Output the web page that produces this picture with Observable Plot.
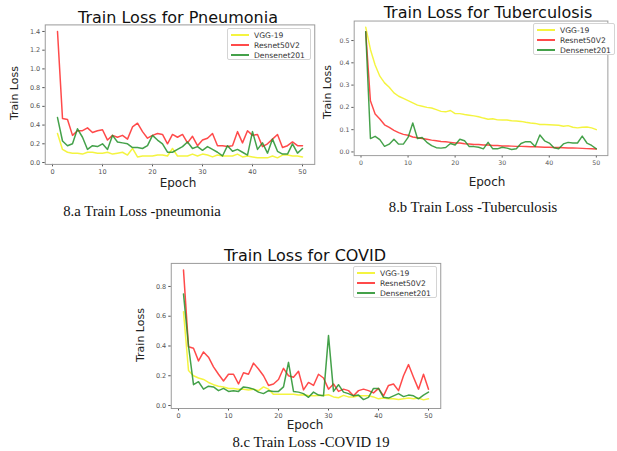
<!DOCTYPE html>
<html>
<head>
<meta charset="utf-8">
<script src="https://cdn.jsdelivr.net/npm/d3@7"></script>
<script src="https://cdn.jsdelivr.net/npm/@observablehq/plot@0.6"></script>
<style>
  html, body { margin: 0; padding: 0; background: #fff; }
  body { width: 617px; height: 451px; overflow: hidden; position: relative; font-family: "DejaVu Sans", sans-serif; }
  .abs { position: absolute; }
  .title { font-size: 16px; color: #111; white-space: nowrap; transform: translate(-50%, -50%); }
  .xlab { font-size: 12px; color: #222; white-space: nowrap; transform: translate(-50%, -50%); }
  .ylab { font-size: 11px; color: #222; white-space: nowrap; transform: translate(-50%, -50%) rotate(-90deg); }
  .cap { font-family: "Liberation Serif", "Times New Roman", serif; font-size: 14.7px; color: #111; white-space: nowrap; transform: translate(-50%, -50%); }
  .legend { border: 1px solid #d4d4d4; border-radius: 2px; background: #fff; padding: 1px 3px 1px 3px; box-sizing: border-box; font-family: "DejaVu Sans", sans-serif; }
  .row { display: flex; align-items: center; height: 10px; font-size: 7.6px; color: #333; white-space: nowrap; }
  .sw { display: inline-block; width: 18px; height: 2px; margin-right: 5px; opacity: 0.85; flex: none; }
</style>
</head>
<body>
<script>
// ---------- data ----------
const epochs = [1,2,3,4,5,6,7,8,9,10,11,12,13,14,15,16,17,18,19,20,21,22,23,24,25,26,27,28,29,30,31,32,33,34,35,36,37,38,39,40,41,42,43,44,45,46,47,48,49,50];
const models = ["VGG-19", "Resnet50V2", "Densenet201"];
const modelColors = ["#f2f21e", "#ff2a2a", "#23902a"];

// Pneumonia
const pneumoniaVGG = [0.31,0.14,0.11,0.10,0.10,0.09,0.11,0.11,0.10,0.10,0.11,0.09,0.10,0.11,0.08,0.15,0.06,0.07,0.07,0.07,0.08,0.08,0.07,0.15,0.07,0.07,0.07,0.09,0.07,0.09,0.08,0.06,0.08,0.07,0.07,0.07,0.09,0.06,0.07,0.06,0.05,0.05,0.05,0.07,0.05,0.08,0.08,0.07,0.07,0.06];
const pneumoniaResnet = [1.40,0.47,0.46,0.29,0.34,0.34,0.37,0.32,0.34,0.35,0.24,0.29,0.27,0.29,0.25,0.38,0.42,0.33,0.26,0.29,0.31,0.30,0.20,0.30,0.27,0.30,0.21,0.28,0.18,0.24,0.26,0.31,0.18,0.18,0.17,0.18,0.33,0.21,0.34,0.29,0.30,0.17,0.20,0.25,0.30,0.16,0.18,0.22,0.18,0.18];
const pneumoniaDensenet = [0.48,0.23,0.18,0.20,0.36,0.27,0.14,0.18,0.17,0.20,0.14,0.29,0.22,0.21,0.20,0.16,0.16,0.15,0.18,0.29,0.24,0.20,0.11,0.11,0.14,0.17,0.22,0.15,0.17,0.13,0.17,0.14,0.11,0.07,0.18,0.12,0.14,0.11,0.08,0.33,0.14,0.21,0.10,0.25,0.12,0.09,0.09,0.20,0.10,0.15];

// Tuberculosis
const tbVGG = [0.56,0.46,0.39,0.34,0.31,0.29,0.265,0.25,0.24,0.23,0.22,0.21,0.205,0.20,0.197,0.19,0.182,0.18,0.186,0.172,0.172,0.168,0.165,0.162,0.158,0.152,0.147,0.149,0.144,0.143,0.143,0.14,0.139,0.137,0.133,0.13,0.128,0.123,0.123,0.122,0.121,0.12,0.115,0.118,0.111,0.108,0.111,0.112,0.108,0.10];
const tbResnet = [0.54,0.23,0.17,0.148,0.122,0.11,0.097,0.087,0.079,0.075,0.067,0.064,0.06,0.057,0.053,0.05,0.047,0.046,0.043,0.04,0.04,0.037,0.036,0.033,0.033,0.031,0.031,0.029,0.029,0.027,0.027,0.026,0.025,0.025,0.024,0.023,0.023,0.022,0.021,0.021,0.02,0.02,0.019,0.018,0.018,0.017,0.016,0.015,0.014,0.013];
const tbDensenet = [0.54,0.06,0.07,0.055,0.025,0.035,0.057,0.035,0.035,0.065,0.13,0.06,0.065,0.043,0.028,0.019,0.017,0.02,0.038,0.031,0.057,0.05,0.024,0.024,0.021,0.014,0.043,0.014,0.014,0.021,0.017,0.011,0.014,0.038,0.046,0.046,0.024,0.076,0.05,0.04,0.019,0.014,0.036,0.043,0.04,0.04,0.071,0.04,0.029,0.014];

// COVID
const covidVGG = [0.63,0.235,0.20,0.185,0.175,0.155,0.14,0.13,0.125,0.115,0.115,0.11,0.11,0.105,0.11,0.10,0.125,0.11,0.075,0.075,0.075,0.075,0.075,0.07,0.072,0.068,0.065,0.068,0.068,0.072,0.058,0.052,0.068,0.058,0.058,0.065,0.065,0.065,0.058,0.045,0.05,0.045,0.045,0.04,0.045,0.05,0.045,0.05,0.038,0.045];
const covidResnet = [0.91,0.395,0.385,0.30,0.36,0.325,0.26,0.21,0.165,0.21,0.21,0.145,0.22,0.21,0.285,0.245,0.20,0.135,0.145,0.175,0.25,0.20,0.19,0.23,0.105,0.155,0.135,0.21,0.185,0.11,0.145,0.095,0.11,0.10,0.065,0.10,0.11,0.10,0.085,0.115,0.065,0.135,0.145,0.10,0.20,0.275,0.19,0.11,0.21,0.11];
const covidDensenet = [0.75,0.40,0.14,0.16,0.11,0.13,0.125,0.10,0.115,0.095,0.10,0.095,0.125,0.12,0.11,0.09,0.08,0.10,0.095,0.095,0.125,0.29,0.095,0.09,0.08,0.055,0.09,0.07,0.065,0.47,0.095,0.14,0.09,0.08,0.065,0.07,0.04,0.055,0.115,0.115,0.055,0.05,0.065,0.08,0.06,0.07,0.065,0.045,0.07,0.09];

// tick labels
const xTicks = [0, 10, 20, 30, 40, 50];
const yTicksPneumonia = [0.0, 0.2, 0.4, 0.6, 0.8, 1.0, 1.2, 1.4];
const yTicksTB = [0.0, 0.1, 0.2, 0.3, 0.4, 0.5];
const yTicksCovid = [0.0, 0.2, 0.4, 0.6, 0.8];

// texts
const titles = ["Train Loss for Pneumonia", "Train Loss for Tuberculosis", "Train Loss for COVID"];
const captions = ["8.a Train Loss -pneumonia", "8.b Train Loss -Tuberculosis", "8.c Train Loss -COVID 19"];
const xLabel = "Epoch";
const yLabel = "Train Loss";

// ---------- helpers ----------
function rows(series) {
  const out = [];
  series.forEach((vals, i) => vals.forEach((v, j) => out.push({epoch: epochs[j], loss: v, model: models[i]})));
  return out;
}

function addEl(cls, text, x, y) {
  const d = document.createElement("div");
  d.className = "abs " + cls;
  d.textContent = text;
  d.style.left = x + "px";
  d.style.top = y + "px";
  document.body.appendChild(d);
  return d;
}

function addLegend(x, y, w, h) {
  const box = document.createElement("div");
  box.className = "abs legend";
  Object.assign(box.style, {left: x + "px", top: y + "px", width: w + "px", height: h + "px"});
  models.forEach((m, i) => {
    const r = document.createElement("div");
    r.className = "row";
    const s = document.createElement("span");
    s.className = "sw";
    s.style.background = modelColors[i];
    r.appendChild(s);
    const t = document.createElement("span");
    t.textContent = m;
    r.appendChild(t);
    box.appendChild(r);
  });
  document.body.appendChild(box);
}

function panel(cfg) {
  const chart = Plot.plot({
    width: cfg.width,
    height: cfg.height,
    marginLeft: cfg.ml, marginRight: cfg.mr, marginTop: cfg.mt, marginBottom: cfg.mb,
    style: {fontFamily: "DejaVu Sans, sans-serif", fontSize: "6.5px", color: "#555", background: "transparent", overflow: "visible"},
    x: {domain: [-1.45, 52.45], ticks: xTicks, tickSize: 2.5, tickPadding: 2.5, tickFormat: d => String(d), label: null},
    y: {domain: cfg.ydomain, ticks: cfg.yticks, tickSize: 2.5, tickPadding: 2.5, tickFormat: d => d.toFixed(1), label: null},
    color: {domain: models, range: modelColors},
    marks: [
      Plot.frame({stroke: "#9a9a9a", strokeWidth: 1}),
      Plot.line(rows(cfg.series), {x: "epoch", y: "loss", z: "model", stroke: "model", strokeWidth: 1.5, strokeOpacity: 0.85})
    ]
  });
  const wrap = document.createElement("div");
  wrap.className = "abs";
  wrap.style.left = cfg.left + "px";
  wrap.style.top = cfg.top + "px";
  wrap.appendChild(chart);
  document.body.appendChild(wrap);
}

// ---------- panels ----------
panel({left: 0, top: 0, width: 320, height: 180, ml: 44.75, mr: 5.75, mt: 24.4, mb: 16.1,
       ydomain: [-0.02, 1.47], yticks: yTicksPneumonia, series: [pneumoniaVGG, pneumoniaResnet, pneumoniaDensenet]});
panel({left: 300, top: 0, width: 330, height: 180, ml: 55.9, mr: 10, mt: 21.4, mb: 18.5,
       ydomain: [-0.0165, 0.5875], yticks: yTicksTB, series: [tbVGG, tbResnet, tbDensenet]});
panel({left: 130, top: 235, width: 320, height: 185, ml: 40.75, mr: 9.75, mt: 27.9, mb: 12,
       ydomain: [-0.02, 0.955], yticks: yTicksCovid, series: [covidVGG, covidResnet, covidDensenet]});

// titles, axis labels, captions
addEl("title", titles[0], 178, 17);
addEl("title", titles[1], 488, 12);
addEl("title", titles[2], 305, 255);

addEl("xlab", xLabel, 178, 183);
addEl("xlab", xLabel, 487, 182);
addEl("xlab", xLabel, 305, 425);

addEl("ylab", yLabel, 14, 93);
addEl("ylab", yLabel, 327, 92);
addEl("ylab", yLabel, 140, 335);

addEl("cap", captions[0], 142, 211);
addEl("cap", captions[1], 473, 207);
addEl("cap", captions[2], 311, 442);

addLegend(227, 28, 84, 32);
addLegend(533, 23, 82, 32);
addLegend(353, 266, 84, 32);
</script>
</body>
</html>
